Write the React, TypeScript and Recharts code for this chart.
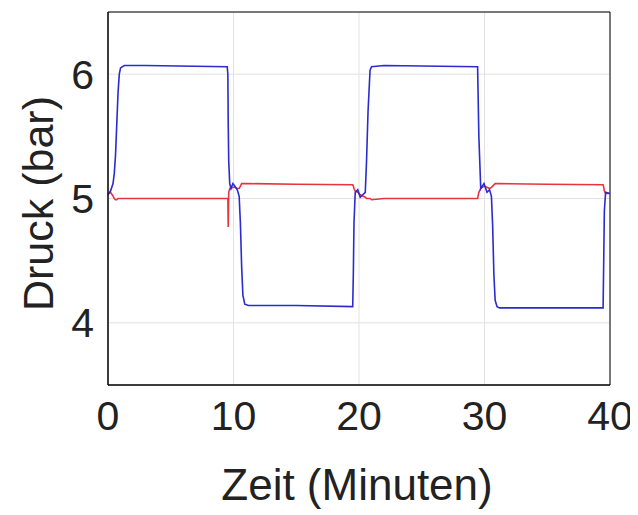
import React from "react";
import {
  LineChart, Line, XAxis, YAxis, CartesianGrid, ReferenceArea,
} from "recharts";

// Zeit in Minuten
const time = [
  0, 0.2, 0.4, 0.5, 0.6, 0.7, 0.8, 0.9, 1.0, 1.3, 3, 9.5, 9.55, 9.58, 9.62, 9.7, 9.8, 9.95,
  10.1, 10.3, 10.45, 10.55, 10.65, 10.75, 10.9, 11.2, 15, 19.5, 19.55, 19.6, 19.7, 19.9,
  20.1, 20.3, 20.5, 20.6, 20.72, 20.88, 21.0, 22, 29.45, 29.55, 29.7, 29.96, 30.2, 30.4,
  30.55, 30.65, 30.75, 30.85, 31.0, 31.2, 35, 39.45, 39.5, 39.55, 39.65, 40,
];

// Druck Leitung (blau)
const blue = [
  5.03, 5.06, 5.12, 5.2, 5.35, 5.6, 5.85, 6.0, 6.05, 6.07, 6.07, 6.06, 6.0, 5.6, 5.3, 5.12, 5.08, 5.12,
  5.1, 5.07, 5.02, 4.8, 4.45, 4.22, 4.15, 4.14, 4.14, 4.13, 4.4, 4.8, 5.05, 5.07,
  5.01, 5.03, 5.05, 5.3, 5.7, 6.03, 6.06, 6.07, 6.06, 5.5, 5.08, 5.12, 5.05, 5.07,
  5.02, 4.78, 4.38, 4.18, 4.13, 4.12, 4.12, 4.12, 4.5, 4.9, 5.05, 5.04,
];

// Druck Sollwert (rot)
const red = [
  5.04, 5.05, 5.02, 5.0, 4.99, 4.99, 5.0, 5.0, 5.0, 5.0, 5.0, 5.0, 5.0, 4.77, 5.05, 5.08, 5.08, 5.09,
  5.09, 5.08, 5.08, 5.1, 5.12, 5.12, 5.12, 5.12, 5.115, 5.11, 5.1, 5.08, 5.06, 5.05,
  5.03, 5.02, 5.01, 5.0, 5.0, 5.0, 4.99, 5.0, 5.0, 5.05, 5.08, 5.1, 5.09, 5.08,
  5.09, 5.1, 5.11, 5.12, 5.12, 5.12, 5.115, 5.11, 5.09, 5.06, 5.04, 5.04,
];

const xTicks = [0, 10, 20, 30, 40];
const yTicks = [4, 5, 6];

const data = time.map((t, i) => ({ t, blue: blue[i], red: red[i] }));

const FONT = "'Liberation Sans', Arial, sans-serif";

export default function App() {
  return (
    <div style={{ fontFamily: FONT }}>
      <LineChart
        width={630}
        height={507}
        data={data}
        margin={{ top: 4, right: 28, left: 0, bottom: 0 }}
      >
        <CartesianGrid stroke="#e2e2e2" strokeWidth={1} />
        <XAxis
          dataKey="t"
          type="number"
          domain={[0, 40]}
          ticks={xTicks}
          height={130}
          tickLine={false}
          tickMargin={10}
          axisLine={{ stroke: "#000" }}
          tick={{ fill: "#222", fontSize: 41, fontFamily: FONT }}
          label={{
            content: ({ viewBox }: any) => (
              <text
                x={viewBox.x + viewBox.width / 2 - 2}
                y={viewBox.y + 115}
                textAnchor="middle"
                fill="#222"
                fontSize={44}
                fontFamily={FONT}
              >
                Zeit (Minuten)
              </text>
            ),
          }}
        />
        <YAxis
          type="number"
          domain={[3.5, 6.5]}
          ticks={yTicks}
          width={100}
          tickLine={false}
          tickMargin={8}
          axisLine={{ stroke: "#000" }}
          tick={{ fill: "#222", fontSize: 41, fontFamily: FONT }}
          label={{
            content: ({ viewBox }: any) => {
              const cx = 45;
              const cy = viewBox.y + viewBox.height / 2 + 5;
              return (
                <text
                  x={cx}
                  y={cy}
                  textAnchor="middle"
                  transform={`rotate(-90, ${cx}, ${cy})`}
                  fill="#222"
                  fontSize={43}
                  fontFamily={FONT}
                >
                  Druck (bar)
                </text>
              );
            },
          }}
        />
        <ReferenceArea x1={0} x2={40} y1={3.5} y2={6.5} fill="none" stroke="#000" strokeWidth={1} />
        <Line
          type="linear"
          dataKey="red"
          stroke="#e8343c"
          strokeWidth={1.6}
          dot={false}
          isAnimationActive={false}
        />
        <Line
          type="linear"
          dataKey="blue"
          stroke="#2b2bd0"
          strokeWidth={1.6}
          dot={false}
          isAnimationActive={false}
        />
      </LineChart>
    </div>
  );
}
